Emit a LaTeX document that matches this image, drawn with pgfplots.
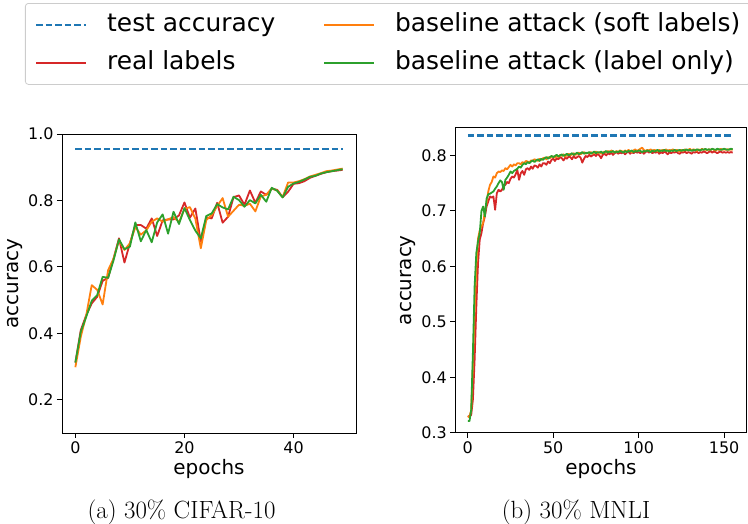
\documentclass[border=0pt]{standalone}
\usepackage{fontspec}
\newfontfamily\dejavu{DejaVu Sans}
\usepackage{pgfplots}
\usepackage{pgfplotstable}
\pgfplotsset{compat=1.18}
\definecolor{tabblue}{HTML}{1F77B4}
\definecolor{taborange}{HTML}{FF7F0E}
\definecolor{tabred}{HTML}{D62728}
\definecolor{tabgreen}{HTML}{2CA02C}

\pgfplotstableread{
e real soft label
0 0.312 0.298 0.312
1 0.410 0.390 0.405
2 0.455 0.455 0.450
3 0.490 0.545 0.498
4 0.510 0.531 0.515
5 0.558 0.487 0.570
6 0.567 0.590 0.567
7 0.625 0.625 0.620
8 0.686 0.680 0.683
9 0.613 0.651 0.653
10 0.671 0.671 0.661
11 0.726 0.720 0.734
12 0.726 0.697 0.677
13 0.715 0.710 0.711
14 0.746 0.736 0.674
15 0.693 0.746 0.734
16 0.740 0.736 0.758
17 0.743 0.743 0.700
18 0.743 0.750 0.766
19 0.755 0.735 0.729
20 0.794 0.774 0.777
21 0.748 0.780 0.741
22 0.776 0.745 0.709
23 0.676 0.656 0.686
24 0.749 0.741 0.753
25 0.746 0.756 0.761
26 0.793 0.783 0.789
27 0.733 0.807 0.779
28 0.751 0.751 0.773
29 0.810 0.769 0.811
30 0.815 0.787 0.801
31 0.787 0.784 0.781
32 0.830 0.790 0.801
33 0.793 0.767 0.791
34 0.827 0.812 0.817
35 0.817 0.817 0.796
36 0.835 0.836 0.838
37 0.832 0.830 0.829
38 0.810 0.810 0.809
39 0.826 0.854 0.841
40 0.850 0.854 0.851
41 0.852 0.858 0.856
42 0.858 0.864 0.863
43 0.868 0.872 0.871
44 0.874 0.877 0.874
45 0.880 0.882 0.881
46 0.885 0.888 0.885
47 0.888 0.890 0.888
48 0.890 0.893 0.891
49 0.892 0.896 0.894
}\cifar

\pgfplotstableread{
e real soft label
0 0.330 0.328 0.321
1 0.329 0.330 0.321
2 0.332 0.340 0.341
3 0.360 0.420 0.444
4 0.431 0.520 0.564
5 0.527 0.600 0.624
6 0.606 0.650 0.645
7 0.648 0.665 0.660
8 0.660 0.672 0.700
9 0.678 0.678 0.708
10 0.690 0.700 0.690
11 0.708 0.715 0.722
12 0.717 0.735 0.730
13 0.726 0.747 0.731
14 0.724 0.752 0.733
15 0.726 0.762 0.735
16 0.702 0.760 0.740
17 0.732 0.768 0.744
18 0.738 0.771 0.750
19 0.735 0.770 0.755
20 0.738 0.773 0.752
21 0.745 0.772 0.738
22 0.747 0.777 0.756
23 0.752 0.775 0.760
24 0.750 0.779 0.765
25 0.758 0.783 0.771
26 0.762 0.780 0.768
27 0.760 0.784 0.772
28 0.766 0.782 0.774
29 0.774 0.786 0.776
30 0.756 0.786 0.780
31 0.768 0.784 0.778
32 0.772 0.788 0.783
33 0.765 0.786 0.786
34 0.775 0.790 0.784
35 0.777 0.789 0.788
36 0.774 0.787 0.786
37 0.780 0.791 0.789
38 0.776 0.790 0.791
39 0.782 0.793 0.788
40 0.781 0.792 0.791
41 0.778 0.790 0.793
42 0.784 0.794 0.790
43 0.780 0.792 0.794
44 0.786 0.795 0.792
45 0.786 0.796 0.795
46 0.783 0.793 0.797
47 0.789 0.797 0.794
48 0.786 0.795 0.797
49 0.792 0.798 0.799
50 0.794 0.798 0.797
51 0.790 0.796 0.799
52 0.795 0.800 0.801
53 0.793 0.797 0.798
54 0.797 0.801 0.800
55 0.795 0.799 0.802
56 0.791 0.802 0.799
57 0.796 0.798 0.801
58 0.794 0.801 0.803
59 0.798 0.803 0.800
60 0.797 0.800 0.802
61 0.793 0.802 0.804
62 0.799 0.804 0.801
63 0.795 0.801 0.803
64 0.797 0.803 0.805
65 0.799 0.805 0.802
66 0.796 0.802 0.804
67 0.787 0.804 0.806
68 0.794 0.806 0.803
69 0.799 0.803 0.805
70 0.797 0.805 0.804
71 0.801 0.804 0.806
72 0.798 0.806 0.803
73 0.800 0.803 0.805
74 0.802 0.805 0.807
75 0.799 0.807 0.804
76 0.803 0.804 0.806
77 0.800 0.806 0.805
78 0.795 0.803 0.807
79 0.801 0.805 0.804
80 0.803 0.807 0.806
81 0.800 0.805 0.808
82 0.804 0.808 0.805
83 0.802 0.806 0.807
84 0.805 0.809 0.806
85 0.801 0.807 0.808
86 0.804 0.805 0.805
87 0.806 0.808 0.807
88 0.803 0.806 0.806
89 0.805 0.809 0.808
90 0.804 0.808 0.807
91 0.806 0.806 0.805
92 0.802 0.809 0.808
93 0.805 0.807 0.806
94 0.807 0.810 0.808
95 0.803 0.808 0.807
96 0.806 0.806 0.809
97 0.804 0.809 0.806
98 0.807 0.811 0.808
99 0.805 0.808 0.807
100 0.806 0.810 0.809
101 0.804 0.812 0.808
102 0.807 0.814 0.806
103 0.803 0.810 0.808
104 0.806 0.808 0.807
105 0.808 0.810 0.809
106 0.805 0.809 0.808
107 0.807 0.811 0.806
108 0.804 0.808 0.809
109 0.806 0.810 0.807
110 0.805 0.809 0.808
111 0.807 0.807 0.810
112 0.803 0.810 0.807
113 0.806 0.808 0.809
114 0.804 0.810 0.808
115 0.807 0.809 0.810
116 0.805 0.811 0.808
117 0.802 0.808 0.809
118 0.806 0.810 0.807
119 0.804 0.809 0.809
120 0.806 0.811 0.808
121 0.805 0.808 0.810
122 0.807 0.810 0.808
123 0.804 0.809 0.809
124 0.803 0.807 0.810
125 0.806 0.810 0.808
126 0.805 0.808 0.810
127 0.807 0.811 0.809
128 0.804 0.809 0.811
129 0.806 0.810 0.809
130 0.805 0.812 0.810
131 0.803 0.809 0.808
132 0.806 0.811 0.810
133 0.805 0.810 0.809
134 0.807 0.808 0.811
135 0.804 0.811 0.810
136 0.806 0.809 0.809
137 0.805 0.812 0.811
138 0.807 0.810 0.810
139 0.806 0.811 0.812
140 0.804 0.809 0.810
141 0.806 0.811 0.811
142 0.808 0.810 0.810
143 0.805 0.812 0.812
144 0.807 0.810 0.811
145 0.806 0.809 0.810
146 0.804 0.811 0.812
147 0.806 0.810 0.811
148 0.807 0.812 0.810
149 0.805 0.810 0.811
150 0.806 0.811 0.812
151 0.805 0.810 0.811
152 0.806 0.811 0.810
153 0.805 0.810 0.811
154 0.806 0.811 0.812
155 0.805 0.810 0.811
}\mnli

\pgfplotstableread{
e acc
0 0.836
155.5 0.836
}\mnlitest

\tikzset{
  dataline/.style={line width=1.8bp, line join=round},
}
\pgfplotsset{
  myaxis/.style={
    scale only axis,
    axis line style={line width=0.8bp},
    tick align=outside,
    tick pos=left,
    major tick length=5bp,
    every tick/.style={black, line width=0.8bp},
    tick label style={font=\fontsize{16}{19}\dejavu},
    label style={font=\fontsize{20}{24}\dejavu, inner sep=0pt},
    /pgf/number format/assume math mode=true,
    yticklabel style={/pgf/number format/.cd, fixed, fixed zerofill, precision=1},
    xticklabel style={/pgf/number format/fixed},
  },
}

\begin{document}
\begin{tikzpicture}
\useasboundingbox (0bp,0bp) rectangle (748bp,524bp);

\begin{axis}[myaxis,
  at={(62bp,91bp)}, anchor=south west,
  width=294bp, height=299bp,
  xmin=-2.45, xmax=51.45, ymin=0.1, ymax=1.0,
  xtick={0,20,40}, ytick={0.2,0.4,0.6,0.8,1.0},
  xlabel={epochs}, ylabel={accuracy},
  xlabel style={at={(axis description cs:0.5,-0.087)}, anchor=north},
  ylabel style={at={(axis description cs:-0.186,0.5)}, anchor=north},
  legend columns=2,
  legend cell align=left,
  legend image code/.code={\draw[#1] (0bp,0bp) -- (50bp,0bp);},
  legend style={at={(-0.1259,1.4381)}, anchor=north west,
    font=\fontsize{25}{30}\dejavu,
    draw={rgb,255:red,204;green,204;blue,204}, line width=0.8bp,
    rounded corners=3bp, fill=white,
    inner xsep=10bp, inner ysep=9bp, row sep=13bp,
    nodes={inner sep=0pt, text height=19bp, text depth=6bp},
    /tikz/every odd column/.append style={column sep=20bp},
    /tikz/every even column/.append style={column sep=48bp}},
]
\addlegendimage{draw=tabblue, line width=1.6bp, dash pattern=on 6.5bp off 3bp}
\addlegendentry{test accuracy}
\addlegendimage{draw=taborange, dataline}
\addlegendentry{baseline attack (soft labels)}
\addlegendimage{draw=tabred, dataline}
\addlegendentry{real labels}
\addlegendimage{draw=tabgreen, dataline}
\addlegendentry{baseline attack (label only)}

\addplot[draw=tabblue, line width=1.6bp, dash pattern=on 6.5bp off 3bp, forget plot] coordinates {(0,0.955) (49,0.955)};
\addplot[draw=tabred, dataline, forget plot] table[x=e, y=real] {\cifar};
\addplot[draw=taborange, dataline, forget plot] table[x=e, y=soft] {\cifar};
\addplot[draw=tabgreen, dataline, forget plot] table[x=e, y=label] {\cifar};
\end{axis}

\begin{axis}[myaxis,
  at={(455.3bp,91.3bp)}, anchor=south west,
  width=291.4bp, height=305bp,
  xmin=-7.3, xmax=163.2, ymin=0.3, ymax=0.85,
  xtick={0,50,100,150}, ytick={0.3,0.4,0.5,0.6,0.7,0.8},
  xlabel={epochs}, ylabel={accuracy},
  xlabel style={at={(axis description cs:0.5,-0.086)}, anchor=north},
  ylabel style={at={(axis description cs:-0.19,0.5)}, anchor=north},
]
\addplot[draw=tabblue, line width=2.2bp, dash pattern=on 6.5bp off 3bp, forget plot] table[x=e, y=acc] {\mnlitest};
\addplot[draw=tabred, dataline, forget plot] table[x=e, y=real] {\mnli};
\addplot[draw=taborange, dataline, forget plot] table[x=e, y=soft] {\mnli};
\addplot[draw=tabgreen, dataline, forget plot] table[x=e, y=label] {\mnli};
\end{axis}

\node[anchor=base, font=\fontsize{25}{30}\selectfont] at (181.5bp,6bp) {(a) 30\% CIFAR-10};
\node[anchor=base, font=\fontsize{25}{30}\selectfont] at (576bp,6bp) {(b) 30\% MNLI};
\end{tikzpicture}
\end{document}
